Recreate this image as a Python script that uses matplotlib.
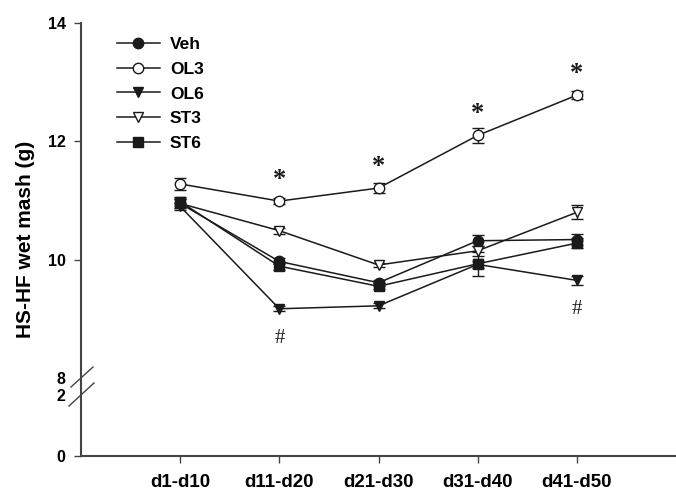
import numpy as np
import matplotlib
matplotlib.use("Agg")
import matplotlib.pyplot as plt
from matplotlib.lines import Line2D

plt.rcParams['font.family'] = ['Liberation Sans', 'DejaVu Sans']
plt.rcParams['font.weight'] = 'bold'

categories = ["d1-d10", "d11-d20", "d21-d30", "d31-d40", "d41-d50"]
series_names = ["Veh", "OL3", "OL6", "ST3", "ST6"]
veh = [10.95, 9.97, 9.61, 10.32, 10.34]
ol3 = [11.28, 10.99, 11.21, 12.10, 12.78]
ol6 = [10.90, 9.17, 9.22, 9.92, 9.65]
st3 = [10.95, 10.49, 9.91, 10.15, 10.80]
st6 = [10.98, 9.89, 9.55, 9.93, 10.28]
veh_err = [0.07, 0.05, 0.05, 0.09, 0.10]
ol3_err = [0.10, 0.05, 0.08, 0.13, 0.07]
ol6_err = [0.06, 0.04, 0.04, 0.06, 0.08]
st3_err = [0.07, 0.05, 0.04, 0.08, 0.12]
st6_err = [0.08, 0.06, 0.05, 0.20, 0.09]
star_idx = [1, 2, 3, 4]
hash_idx = [1, 4]
y_ticks = [0, 2, 8, 10, 12, 14]

W, H = 676, 490
fig = plt.figure(figsize=(W / 100, H / 100), dpi=100)

def fx(px):
    return px / W

def fy(py):
    return (H - py) / H

ax = fig.add_axes([fx(81), fy(456), 1 - fx(81), fy(23) - fy(456)])

# broken axis scale
vals = [0, 2, 8, 14]
pix = [0, 61, 78, 433]

def fwd(y):
    return np.interp(y, vals, pix)

def inv(p):
    return np.interp(p, pix, vals)

ax.set_yscale('function', functions=(fwd, inv))
ax.set_ylim(0, 14)
ax.set_xlim(0, 6)

x = np.arange(1, len(categories) + 1)
dark = '#1a1a1a'
styles = [
    (veh, veh_err, 'o', dark),
    (ol3, ol3_err, 'o', 'white'),
    (ol6, ol6_err, 'v', dark),
    (st3, st3_err, 'v', 'white'),
    (st6, st6_err, 's', dark),
]
handles = []
for (vals_s, err, mk, fc), name in zip(styles, series_names):
    ms = 7.5 if mk != 's' else 7
    ax.errorbar(x, vals_s, yerr=err, color=dark, lw=1.1, marker=mk,
                markersize=ms, mfc=fc, mec=dark, mew=1.0,
                capsize=4.5, capthick=1.0, elinewidth=1.0, zorder=3)
    handles.append(Line2D([], [], color=dark, lw=1.1, marker=mk,
                          markersize=ms, mfc=fc, mec=dark, mew=1.0))

for i in star_idx:
    ax.annotate('*', xy=(x[i], ol3[i]), xytext=(0, 15),
                textcoords='offset pixels', ha='center', va='baseline',
                fontsize=19, fontweight='bold', family='Liberation Serif', color=dark)
for i in hash_idx:
    ax.annotate('#', xy=(x[i], ol6[i]), xytext=(0, -34),
                textcoords='offset pixels', ha='center', va='baseline',
                fontsize=15, fontweight='normal', family='Liberation Serif', color=dark)

ax.set_xticks(x)
ax.set_xticklabels(categories, fontsize=13.5, fontweight='bold')
ax.set_yticks(y_ticks)
ax.set_yticklabels([str(t) for t in y_ticks], fontsize=11.5, fontweight='bold')
for t, val in zip(ax.yaxis.get_major_ticks(), y_ticks):
    if val in (2, 8):
        t.tick1line.set_visible(False)
ax.tick_params(axis='both', direction='out', length=5, width=1.0, color='#444444')
ax.tick_params(axis='y', pad=6)
ax.tick_params(axis='x', pad=8)
for s in ['top', 'right']:
    ax.spines[s].set_visible(False)
for s in ['left', 'bottom']:
    ax.spines[s].set_linewidth(1.5)
    ax.spines[s].set_color('#444444')

ax.set_ylabel('HS-HF wet mash (g)', fontsize=15, fontweight='bold', labelpad=9)

# break marks
for (x0, y0, x1, y1) in [(71, 387, 93, 367), (69, 406, 94, 383)]:
    fig.add_artist(Line2D([fx(x0), fx(x1)], [fy(y0), fy(y1)], transform=fig.transFigure,
                          color='#444444', lw=1.0))

leg = ax.legend(handles, series_names, loc='upper left',
                bbox_to_anchor=(fx(117), fy(37)), bbox_transform=fig.transFigure,
                frameon=False, fontsize=12.5, handlelength=2.45, handletextpad=0.6,
                labelspacing=0.55, borderpad=0, borderaxespad=0)
for t in leg.get_texts():
    t.set_fontweight('bold')

fig.savefig('out.png', dpi=100)
